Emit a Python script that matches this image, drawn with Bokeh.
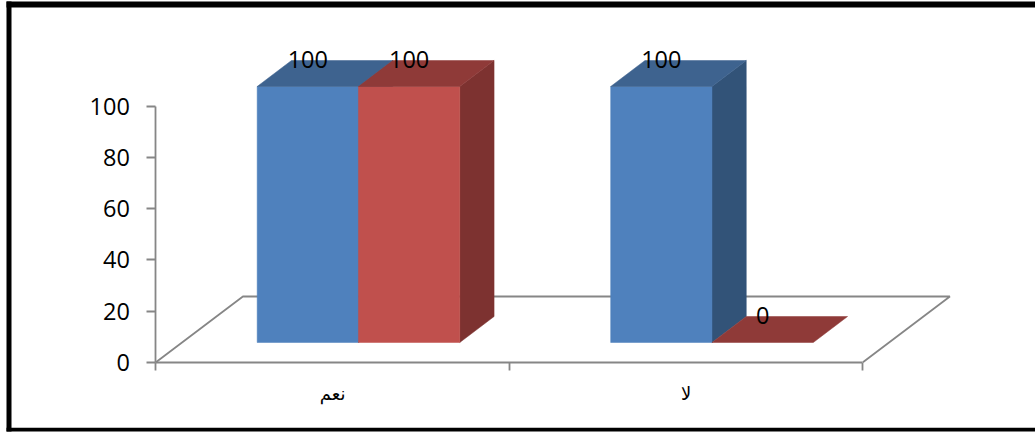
from bokeh.plotting import figure
from bokeh.models import ColumnDataSource, LinearAxis, FixedTicker, BoxAnnotation, Range1d
from bokeh.core.properties import value
from bokeh.embed import file_html
from bokeh.resources import INLINE

categories = ["نعم", "لا"]
series_a = [100, 100]
series_b = [100, 0]
y_ticks = [0, 20, 40, 60, 80, 100]

W, H = 1035, 435
X0_PX, X2_PX = 155.4, 862.4
Y0_PX, Y100_PX = 361.7, 105.7
PX_X = (X2_PX - X0_PX) / 2
PX_Y = (Y0_PX - Y100_PX) / 100

p = figure(width=W, height=H, output_backend="svg", toolbar_location=None,
           x_range=Range1d(-X0_PX / PX_X, (W - X0_PX) / PX_X),
           y_range=Range1d(-(H - Y0_PX) / PX_Y, Y0_PX / PX_Y),
           min_border=0, min_border_left=0, min_border_right=0, min_border_top=0, min_border_bottom=0,
           x_axis_type=None, y_axis_type=None, outline_line_color=None)
p.grid.visible = False
p.background_fill_color = "white"
p.border_fill_color = "white"

AXIS = "#868686"
AXIS_W = 1.8
BLUE = ("#4F81BD", "#3E638F", "#325378")
RED = ("#C0504D", "#8F3A38", "#7D3230")

# floor
fdx, fdy = 87 / PX_X, 65.7 / PX_Y
p.line([0, fdx, 2 + fdx, 2], [0, fdy, fdy, 0], line_color=AXIS, line_width=AXIS_W)

# bars
bw = 101.3 / PX_X
gap = 0.2865
lift = 19.7 / PX_Y
ddx, ddy = 34.3 / PX_X, 26.0 / PX_Y


def faces(i, s, v):
    x0 = i + gap + s * bw
    x1 = x0 + bw
    y0, y1 = lift, lift + v
    front = ([x0, x1, x1, x0], [y0, y0, y1, y1])
    top = ([x0, x1, x1 + ddx, x0 + ddx], [y1, y1, y1 + ddy, y1 + ddy])
    side = ([x1, x1 + ddx, x1 + ddx, x1], [y0, y0 + ddy, y1 + ddy, y1])
    return front, top, side


lab_x, lab_y, lab_t = [], [], []
for i in range(len(categories)):
    for s, (vals, pal) in enumerate([(series_a, BLUE), (series_b, RED)]):
        v = vals[i]
        front, top, side = faces(i, s, v)
        if v > 0:
            p.patch(*side, fill_color=pal[2], line_color=pal[2], line_width=0.5)
            p.patch(*front, fill_color=pal[0], line_color=pal[0], line_width=0.5)
        p.patch(*top, fill_color=pal[1], line_color=pal[1], line_width=0.5)
        lab_x.append(i + gap + s * bw + bw / 2)
        lab_y.append(lift + v + ddy)
        lab_t.append(str(v))

p.text(x="x", y="y", text="t", source=ColumnDataSource(dict(x=lab_x, y=lab_y, t=lab_t)),
       text_font=value("Open Sans"), text_font_size="23.5px", text_color="black",
       text_align="center", text_baseline="middle", y_offset=-1)

# axes
yax = LinearAxis(ticker=FixedTicker(ticks=y_ticks), fixed_location=0, bounds=(0, 100))
yax.axis_line_color = AXIS
yax.axis_line_width = AXIS_W
yax.major_tick_line_color = AXIS
yax.major_tick_line_width = AXIS_W
yax.major_tick_in = 0
yax.major_tick_out = 9
yax.minor_tick_line_color = None
yax.major_label_text_font = "Open Sans"
yax.major_label_text_font_size = "23.5px"
yax.major_label_text_color = "black"
yax.major_label_standoff = 17
p.add_layout(yax, "left")

xax = LinearAxis(ticker=FixedTicker(ticks=[0.5, 1.5], minor_ticks=[0, 1, 2]), fixed_location=0, bounds=(0, 2),
                 major_label_overrides={0.5: categories[0], 1.5: categories[1]})
xax.axis_line_color = AXIS
xax.axis_line_width = AXIS_W
xax.major_tick_line_color = None
xax.major_tick_in = 0
xax.major_tick_out = 0
xax.minor_tick_line_color = AXIS
xax.minor_tick_line_width = AXIS_W
xax.minor_tick_in = 0
xax.minor_tick_out = 8
xax.major_label_standoff = 13
xax.major_label_text_font = "DejaVu Sans"
xax.major_label_text_font_size = "18px"
xax.major_label_text_color = "black"
p.add_layout(xax, "below")

# page frame
for l, r, t, b in [(6, 1035, 4, 7.7), (6, 11, 4, 434), (6, 1035, 428, 434)]:
    p.add_layout(BoxAnnotation(left=l, right=r, top=t, bottom=b,
                               left_units="screen", right_units="screen",
                               top_units="screen", bottom_units="screen", fill_color="black", fill_alpha=1,
                               line_color=None, level="annotation"))

open("out.html", "w").write(file_html(p, INLINE))
